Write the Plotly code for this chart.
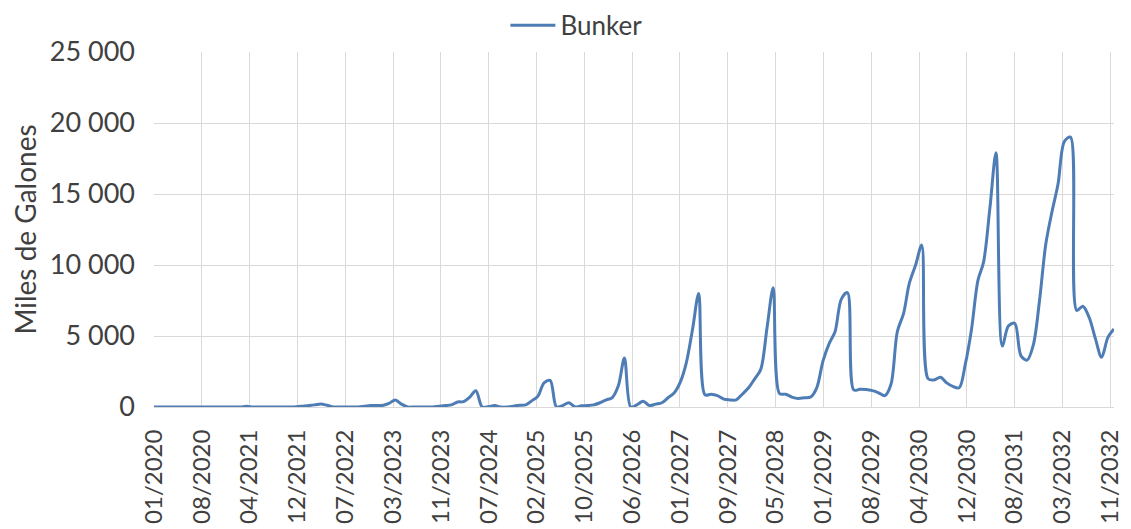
import pandas as pd
import plotly.graph_objects as go

# Monthly series, Jan 2020 .. Dec 2032 (miles de galones)
start_month = "2020-01-01"
bunker = [
    0, 0, 0, 0, 0, 0, 0, 0, 0, 0, 0, 0,            # 2020
    0, 0, 0, 50, 0, 0, 0, 0, 0, 0, 0, 20,          # 2021
    60, 100, 150, 220, 120, 0, 0, 0, 0, 0, 50, 100,  # 2022
    100, 120, 250, 500, 200, 0, 0, 0, 0, 0, 50, 100,  # 2023
    150, 350, 380, 700, 1150, 0, 20, 100, 0, 0, 60, 120,  # 2024
    150, 450, 750, 1700, 1870, 0, 100, 300, 0, 80, 100, 150,  # 2025
    300, 500, 650, 1500, 3450, 0, 150, 400, 100, 200, 300, 650,  # 2026
    1000, 1800, 3100, 5500, 8000, 850, 900, 800, 550, 500, 500, 900,  # 2027
    1350, 2000, 2650, 5600, 8400, 950, 900, 700, 600, 650, 700, 1350,  # 2028
    3250, 4500, 5300, 7600, 8050, 1200, 1250, 1230, 1150, 1000, 800, 1600,  # 2029
    5300, 6600, 8700, 10000, 11400, 2000, 1900, 2100, 1700, 1450, 1350, 3000,  # 2030
    5500, 8900, 10200, 14000, 17900, 4300, 5700, 5900, 3600, 3300, 4400, 7500,  # 2031
    11500, 13800, 15700, 18700, 19000, 6800, 7100, 6300, 4800, 3500, 4900, 5500,  # 2032
]
series_name = "Bunker"
y_title = "Miles de Galones"

# Date-axis tick labels (Excel date axis, one label every 235 days)
tick_labels = ["01/2020", "08/2020", "04/2021", "12/2021", "07/2022", "03/2023",
               "11/2023", "07/2024", "02/2025", "10/2025", "06/2026", "01/2027",
               "09/2027", "05/2028", "01/2029", "08/2029", "04/2030", "12/2030",
               "08/2031", "03/2032", "11/2032"]
tick_step_days = 235
y_ticks = [0, 5000, 10000, 15000, 20000, 25000]

dates = pd.date_range(start_month, periods=len(bunker), freq="MS")
tick_vals = [pd.Timestamp(start_month) + pd.Timedelta(days=tick_step_days * i)
             for i in range(len(tick_labels))]

FONT = "Lato, 'Open Sans', sans-serif"
TXT = "#404040"
GRID = "#d9d9d9"

fig = go.Figure()
fig.add_trace(go.Scatter(
    x=dates, y=bunker, mode="lines", name=series_name,
    line=dict(color="#4E7DB5", width=3, shape="spline", smoothing=0.9),
))

# page body has an 8px default margin, so the figure is sized to the visible area
fig.update_layout(
    width=1123, height=521,
    margin=dict(l=146, r=17, t=44, b=122, autoexpand=False),
    paper_bgcolor="white", plot_bgcolor="white",
    separators=". ",
    font=dict(family=FONT, size=24, color=TXT),
    showlegend=True,
    legend=dict(orientation="h", x=0.44, xanchor="center", y=1.075, yanchor="middle",
                font=dict(size=26, color=TXT), itemwidth=45,
                bgcolor="rgba(0,0,0,0)"),
    xaxis=dict(
        type="date", automargin=False,
        range=[dates[0], dates[-1]],
        tickmode="array", tickvals=tick_vals, ticktext=tick_labels,
        tickangle=-90, showgrid=True, gridcolor=GRID, gridwidth=1,
        showline=True, linecolor=GRID, linewidth=1, ticks="",
        ticklabelstandoff=12,
        tickfont=dict(size=24, color=TXT), zeroline=False,
    ),
    yaxis=dict(
        automargin=False,
        range=[0, 25000], tickmode="array", tickvals=y_ticks,
        tickformat=",d", showgrid=True, gridcolor=GRID, gridwidth=1,
        zeroline=False, showline=False, ticks="",
        ticklabelstandoff=18,
        tickfont=dict(size=27, color=TXT),
        title=dict(text=y_title, font=dict(size=28, color=TXT), standoff=12),
    ),
)

fig.write_html("out.html")
